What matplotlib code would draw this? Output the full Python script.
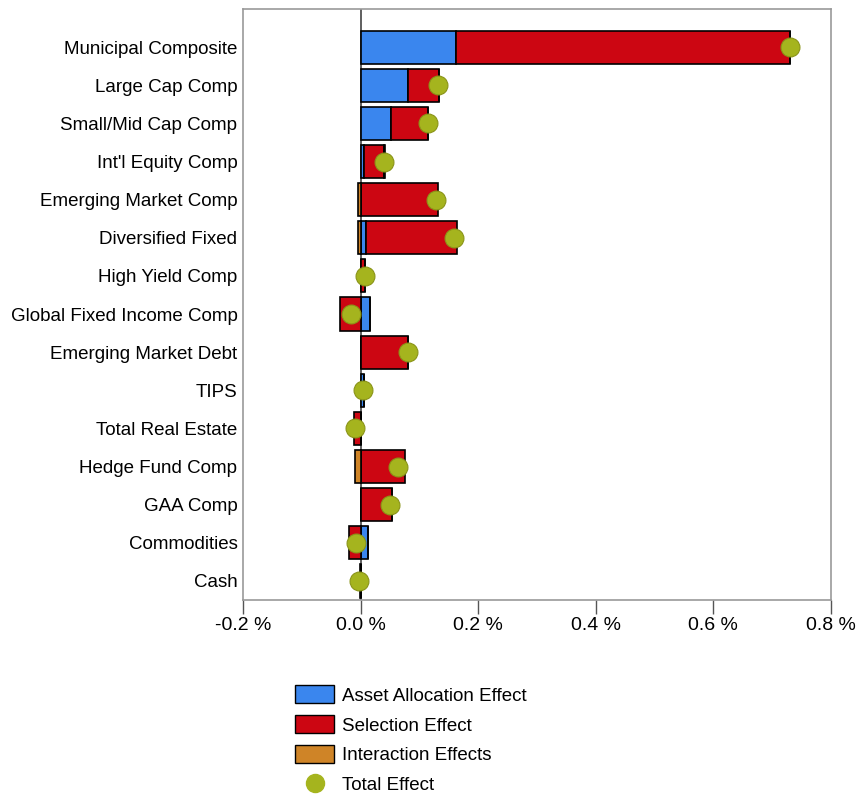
import numpy as np
import matplotlib.pyplot as plt
from matplotlib.patches import Patch
from matplotlib.lines import Line2D

plt.rcParams['font.family'] = ['Liberation Sans', 'DejaVu Sans']

# 데이터 (%)
categories = ['Municipal Composite', 'Large Cap Comp', 'Small/Mid Cap Comp', "Int'l Equity Comp",
              'Emerging Market Comp', 'Diversified Fixed', 'High Yield Comp', 'Global Fixed Income Comp',
              'Emerging Market Debt', 'TIPS', 'Total Real Estate', 'Hedge Fund Comp', 'GAA Comp',
              'Commodities', 'Cash']
allocation = [0.162, 0.080, 0.052, 0.006, 0.000, 0.010, 0.000, 0.016, 0.000, 0.005, 0.000, 0.000, 0.000, 0.012, 0.000]
selection = [0.569, 0.053, 0.063, 0.033, 0.132, 0.154, 0.008, -0.035, 0.081, 0.000, -0.011, 0.076, 0.053, -0.019, 0.000]
interaction = [0.000, 0.000, 0.000, 0.003, -0.005, -0.004, 0.000, 0.000, 0.000, 0.000, 0.000, -0.010, 0.000, 0.000, -0.001]
total = [0.730, 0.131, 0.115, 0.040, 0.128, 0.159, 0.007, -0.017, 0.080, 0.004, -0.010, 0.064, 0.050, -0.008, -0.002]

c_alloc = '#3a86ee'
c_sel = '#cc0612'
c_int = '#cf8427'
c_tot = '#a5b41e'

fig = plt.figure(figsize=(8.58, 7.96), dpi=100)
ax = fig.add_axes([243 / 858, 1 - 600 / 796, (831 - 243) / 858, (600 - 9) / 796])

y = np.arange(len(categories))
h = 0.87

# 양수/음수 따로 쌓기
pos = np.zeros(len(categories))
neg = np.zeros(len(categories))
for vals, col in [(allocation, c_alloc), (selection, c_sel), (interaction, c_int)]:
    vals = np.array(vals)
    left = np.where(vals >= 0, pos, neg)
    ax.barh(y, vals, left=left, height=h, color=col, edgecolor='black', linewidth=1.2, zorder=2)
    pos = pos + np.where(vals >= 0, vals, 0)
    neg = neg + np.where(vals < 0, vals, 0)

ax.scatter(total, y, s=185, color=c_tot, edgecolor='#8a9418', linewidth=0.8, zorder=4)

ax.axvline(0, color='#444444', linewidth=1.2, zorder=1)

ax.set_xlim(-0.2, 0.8)
ax.set_ylim(len(categories) - 0.5, -1.0)
ax.set_yticks(y)
ax.set_yticklabels(categories, fontsize=13.5)
ax.tick_params(axis='y', length=0, pad=4)
xt = [-0.2, 0.0, 0.2, 0.4, 0.6, 0.8]
ax.set_xticks(xt)
ax.set_xticklabels([f'{v:.1f} %' for v in xt], fontsize=14)
ax.tick_params(axis='x', length=10, width=1, color='#555555', pad=2)
for sp in ax.spines.values():
    sp.set_color('#999999')
    sp.set_linewidth(1.2)

handles = [Patch(facecolor=c_alloc, edgecolor='black', label='Asset Allocation Effect'),
           Patch(facecolor=c_sel, edgecolor='black', label='Selection Effect'),
           Patch(facecolor=c_int, edgecolor='black', label='Interaction Effects'),
           Line2D([], [], marker='o', linestyle='none', markersize=13, markerfacecolor=c_tot,
                  markeredgecolor=c_tot, label='Total Effect')]
fig.legend(handles=handles, loc='upper left', bbox_to_anchor=(286 / 858, 1 - 676 / 796),
           frameon=False, fontsize=13.5, handlelength=2.05, handleheight=1.1,
           labelspacing=0.56, handletextpad=0.45, borderpad=0)

plt.savefig('out.png')
